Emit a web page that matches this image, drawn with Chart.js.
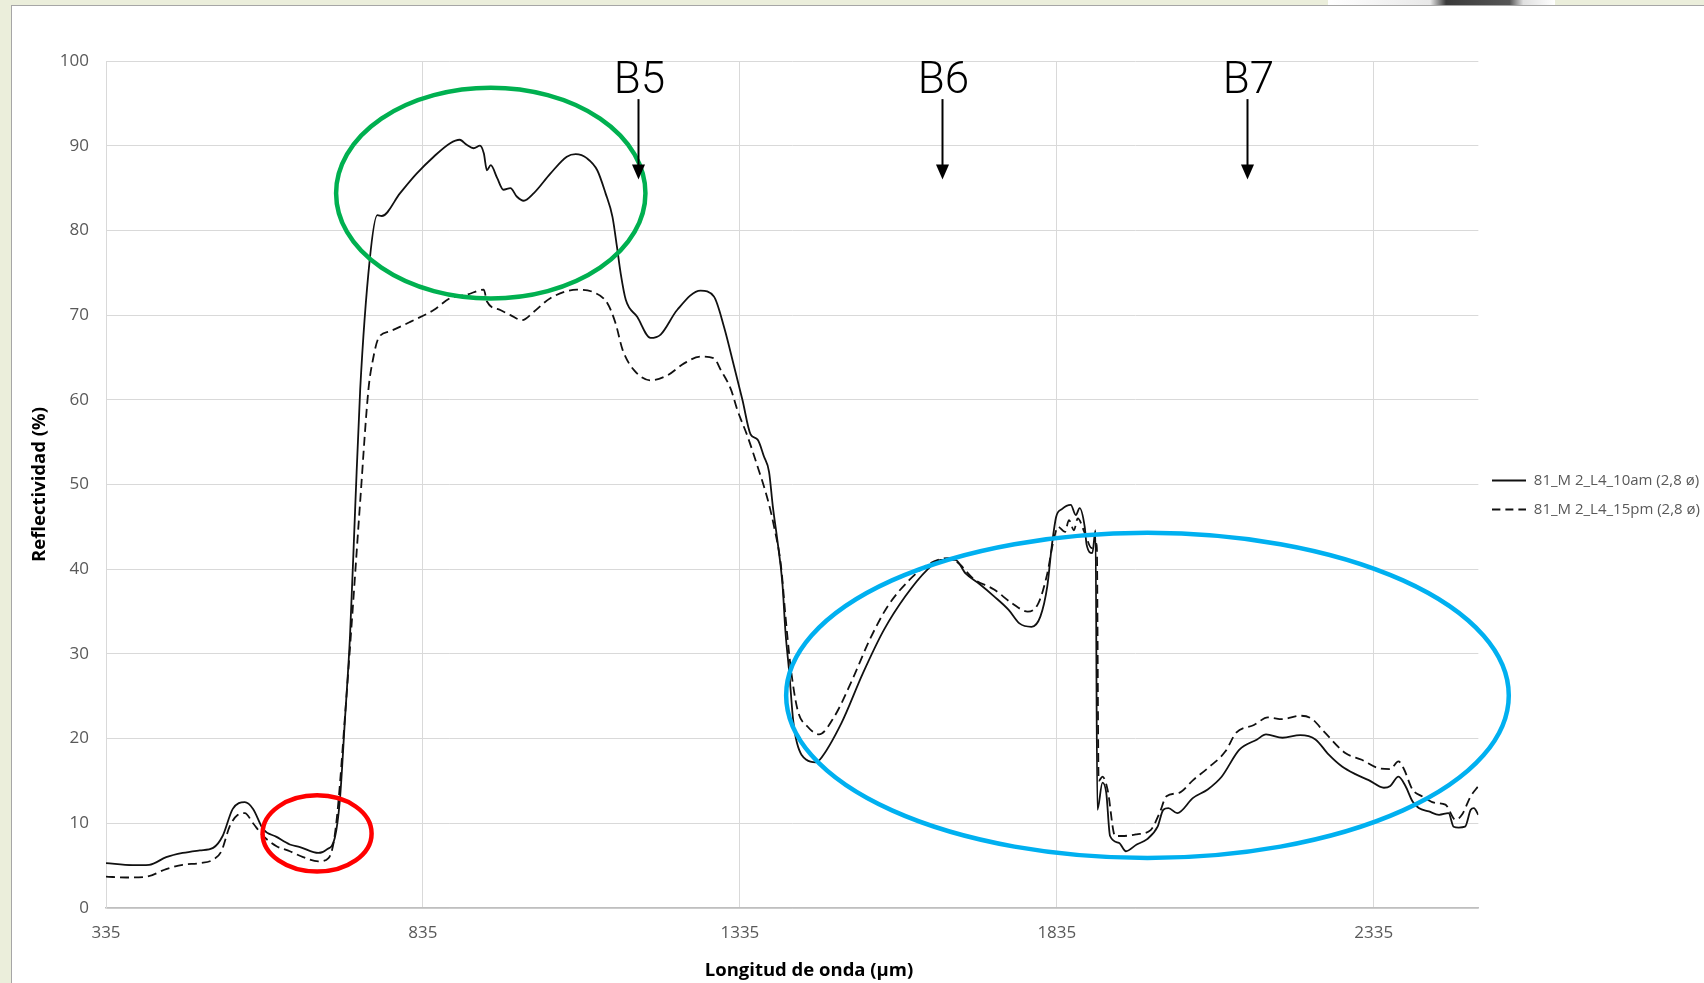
<!DOCTYPE html>
<html>
<head>
<meta charset="utf-8">
<script src="https://cdn.jsdelivr.net/npm/chart.js@4"></script>
<style>
  body { margin: 0; background: #ebeedb; overflow: hidden; }
  #panel { position: absolute; left: 11px; top: 5px; width: 1693px; height: 978px; background: #fff;
           border-top: 1px solid #a6a6a6; border-left: 1px solid #a6a6a6; }
  #strip { position: absolute; left: 1328px; top: 0; width: 227px; height: 5px;
           background: linear-gradient(to right, #fff 0%, #e8e8e8 45%, #3a3a3a 52%, #555 80%, #e0e0e0 86%, #fff 100%); }
  #myChart { position: absolute; left: 0; top: 0; }
</style>
</head>
<body>
<div id="panel"></div>
<div id="strip"></div>
<canvas id="myChart" width="1704" height="983"></canvas>
<script>
// wavelength / reflectance
const wl10am = [335, 377, 403, 430, 456, 483, 504, 519, 535, 554, 567, 583, 604, 625, 641, 670, 683, 696, 704, 712,
  720, 728, 736, 751, 763, 770, 799, 825, 852, 878, 893, 904, 915, 925, 931, 936, 942, 952, 962, 973,
  983, 994, 1010, 1036, 1062, 1076, 1094, 1110, 1123, 1134, 1141, 1147, 1155, 1173, 1194, 1210, 1236, 1273, 1294, 1310,
  1326, 1339, 1352, 1363, 1373, 1381, 1387, 1394, 1402, 1407, 1413, 1419, 1425, 1440, 1455, 1461, 1495, 1529, 1562, 1596,
  1630, 1652, 1675, 1691, 1714, 1736, 1759, 1776, 1795, 1809, 1820, 1827, 1834, 1843, 1857, 1865, 1871, 1879, 1882, 1891,
  1896, 1899, 1907, 1913, 1919, 1933, 1944, 1961, 1977, 1994, 2003, 2011, 2025, 2050, 2073, 2095, 2123, 2151, 2165, 2191,
  2219, 2243, 2264, 2285, 2306, 2327, 2351, 2361, 2374, 2385, 2396, 2406, 2422, 2438, 2453, 2461, 2469, 2479, 2488, 2493, 2500];
const r10am = [5.3, 5.06, 5.1, 6.0, 6.5, 6.8, 7.1, 8.5, 11.7, 12.5, 11.7, 9.3, 8.4, 7.5, 7.2, 6.5, 6.9, 8.3, 12.8, 22.3,
  32.2, 47, 61.2, 76.5, 81.8, 81.7, 84.4, 86.7, 88.7, 90.3, 90.7, 90.1, 89.7, 90.0, 89.1, 87.1, 87.7, 86.2, 84.8, 85.0,
  84.0, 83.5, 84.4, 86.7, 88.7, 89.0, 88.5, 87.1, 84.4, 81.6, 78.1, 74.9, 71.8, 69.8, 67.3, 67.7, 70.6, 72.9, 72.2, 68.6,
  63.9, 60.0, 55.9, 55.3, 53.3, 51.5, 47.4, 43.5, 38.4, 32.5, 27.7, 22.2, 19.5, 17.5, 17.2, 17.5, 21.8, 27.7, 32.8, 36.8,
  39.9, 41.1, 41.1, 39.5, 38.2, 36.8, 35.2, 33.6, 33.2, 34.4, 38.0, 42.7, 46.2, 47.1, 47.6, 46.4, 47.2, 45.0, 42.9, 41.9,
  44.6, 11.6, 14.8, 13.6, 8.5, 7.7, 6.7, 7.5, 8.1, 9.6, 11.6, 11.8, 11.2, 13.0, 14.0, 15.5, 18.7, 19.9, 20.5, 20.1,
  20.4, 19.9, 18.1, 16.7, 15.8, 15.1, 14.2, 14.4, 15.5, 14.4, 12.6, 11.8, 11.4, 11.0, 11.2, 9.6, 9.5, 9.6, 11.6, 11.8, 11.0];

const wl15pm = [335, 367, 399, 430, 456, 483, 504, 517, 530, 543, 554, 567, 583, 604, 625, 646, 670, 686, 694, 701,
  712, 723, 736, 749, 756, 765, 783, 815, 852, 878, 904, 931, 936, 957, 973, 991, 1010, 1036, 1078, 1104,
  1126, 1139, 1150, 1168, 1194, 1221, 1247, 1273, 1294, 1305, 1321, 1331, 1347, 1363, 1379, 1389, 1400, 1407, 1415, 1426,
  1442, 1460, 1484, 1512, 1540, 1568, 1602, 1635, 1663, 1680, 1703, 1736, 1764, 1789, 1806, 1820, 1829, 1837, 1848, 1854,
  1862, 1868, 1879, 1890, 1898, 1901, 1907, 1915, 1927, 1938, 1961, 1983, 1997, 2008, 2028, 2050, 2073, 2101, 2118, 2146,
  2168, 2191, 2219, 2236, 2258, 2290, 2316, 2343, 2361, 2374, 2382, 2396, 2411, 2432, 2448, 2464, 2474, 2488, 2500];
const r15pm = [3.7, 3.6, 3.7, 4.6, 5.1, 5.3, 5.7, 6.7, 9.6, 11.0, 11.2, 10.0, 8.5, 7.3, 6.7, 6.0, 5.5, 5.9, 7.7, 12.0,
  22.6, 34.0, 48, 61.2, 64.7, 67.3, 68.1, 69.2, 70.6, 72.0, 72.4, 73.0, 71.6, 70.6, 70.0, 69.4, 70.4, 72.0, 73.0, 72.7,
  71.4, 69.0, 65.9, 63.5, 62.3, 62.9, 64.3, 65.1, 64.9, 63.5, 61.2, 58.8, 55.7, 52.1, 48.2, 45.0, 40.3, 34.4, 28.5, 23.4,
  21.4, 20.5, 22.6, 26.9, 31.7, 35.6, 38.7, 40.7, 41.3, 40.7, 38.9, 37.6, 36.0, 35.0, 36.0, 39.5, 43.1, 45.0, 44.4, 45.8,
  44.6, 46.0, 44.3, 42.5, 43.0, 15.0, 15.5, 14.0, 8.5, 8.5, 8.7, 9.2, 11.2, 13.2, 13.6, 15.1, 16.5, 18.5, 20.7, 21.6,
  22.5, 22.3, 22.7, 22.4, 20.7, 18.3, 17.5, 16.5, 16.4, 17.3, 16.5, 14.0, 13.2, 12.4, 12.2, 10.4, 11.0, 13.2, 14.4];

const xTicks = [335, 835, 1335, 1835, 2335];

// band markers (wavelength) and highlighted zones (in data units)
const bandLabels = ['B5', 'B6', 'B7'];
const bandWl = [1175, 1654, 2135];
const highlights = [
  { x: 942, y: 84.4, rx: 244, ry: 12.45, color: '#00b050' },
  { x: 668, y: 8.8, rx: 86, ry: 4.5, color: '#ff0000' },
  { x: 1978, y: 25.1, rx: 570, ry: 19.2, color: '#00b0f0' },
];

const toPoints = (xs, ys) => xs.map((x, i) => ({ x: x, y: ys[i] }));

// little line samples used as legend symbols
function lineSample(dash) {
  const c = document.createElement('canvas');
  c.width = 34;
  c.height = 4;
  const g = c.getContext('2d');
  g.strokeStyle = '#111111';
  g.lineWidth = 1.8;
  g.setLineDash(dash);
  g.beginPath();
  g.moveTo(0, 2);
  g.lineTo(34, 2);
  g.stroke();
  return c;
}

const annotations = {
  id: 'annotations',
  afterDatasetsDraw(chart) {
    const { ctx, scales: { x, y } } = chart;
    ctx.save();
    // ellipses
    highlights.forEach((h) => {
      const cx = x.getPixelForValue(h.x);
      const cy = y.getPixelForValue(h.y);
      const rx = x.getPixelForValue(h.x + h.rx) - cx;
      const ry = cy - y.getPixelForValue(h.y + h.ry);
      ctx.beginPath();
      ctx.ellipse(cx, cy, rx, ry, 0, 0, Math.PI * 2);
      ctx.lineWidth = 4.5;
      ctx.strokeStyle = h.color;
      ctx.stroke();
    });
    // band arrows
    const top = y.getPixelForValue(95.5);
    const tip = y.getPixelForValue(86);
    ctx.fillStyle = '#000';
    ctx.strokeStyle = '#000';
    ctx.font = '300 44px Roboto';
    ctx.textAlign = 'center';
    ctx.textBaseline = 'alphabetic';
    bandWl.forEach((w, i) => {
      const px = Math.round(x.getPixelForValue(w)) + 0.5;
      ctx.beginPath();
      ctx.moveTo(px, top);
      ctx.lineTo(px, tip - 12);
      ctx.lineWidth = 2;
      ctx.stroke();
      ctx.beginPath();
      ctx.moveTo(px - 6.5, tip - 15);
      ctx.lineTo(px + 6.5, tip - 15);
      ctx.lineTo(px, tip);
      ctx.closePath();
      ctx.fill();
      ctx.fillText(bandLabels[i], px + 1, top - 6);
    });
    ctx.restore();
  },
};

Chart.defaults.font.family = "'Open Sans', sans-serif";

const ctx = document.getElementById('myChart');

new Chart(ctx, {
  type: 'line',
  data: {
    datasets: [
      {
        label: '81_M 2_L4_10am (2,8 ø)',
        data: toPoints(wl10am, r10am),
        borderWidth: 1.8,
        borderColor: '#111111',
        backgroundColor: '#111111',
        pointRadius: 0,
        pointStyle: lineSample([]),
        cubicInterpolationMode: 'monotone',
      },
      {
        label: '81_M 2_L4_15pm (2,8 ø)',
        data: toPoints(wl15pm, r15pm),
        borderWidth: 1.8,
        borderColor: '#111111',
        backgroundColor: '#111111',
        borderDash: [9, 5],
        pointRadius: 0,
        pointStyle: lineSample([8, 5]),
        cubicInterpolationMode: 'monotone',
      },
    ],
  },
  options: {
    responsive: false,
    animation: false,
    // the legend runs right up to the panel edge
    layout: { padding: { top: 61, left: 20, right: -6, bottom: 0 } },
    plugins: {
      legend: {
        position: 'right',
        fullSize: false,
        title: { display: true, text: '', font: { size: 10 }, padding: 4.5 },
        labels: {
          usePointStyle: true,
          pointStyleWidth: 34,
          padding: 14,
          color: '#595959',
          font: { size: 15 },
        },
      },
      tooltip: { enabled: false },
    },
    scales: {
      x: {
        type: 'linear',
        min: 335,
        max: 2500,
        afterBuildTicks: (scale) => {
          scale.ticks = xTicks.map((v) => ({ value: v }));
        },
        afterFit: (scale) => {
          scale.height = 75;
        },
        ticks: {
          callback: (v) => String(v),
          color: '#595959',
          font: { size: 17 },
          padding: 15,
          maxRotation: 0,
        },
        grid: { color: '#d9d9d9', drawTicks: false },
        border: { color: '#bfbfbf', width: 1.5 },
        title: {
          display: true,
          // leading blanks push the title a bit right of the axis centre, as in the original
          text: '\u00a0'.repeat(7) + 'Longitud de onda (µm)',
          color: '#000',
          font: { size: 18.5, weight: 'bold' },
          padding: { top: 0, bottom: 1 },
        },
      },
      y: {
        min: 0,
        max: 100,
        afterFit: (scale) => {
          scale.width = 86;
        },
        ticks: {
          stepSize: 10,
          color: '#595959',
          font: { size: 17 },
          padding: 17,
        },
        grid: { color: '#d9d9d9', drawTicks: false },
        border: { color: '#d9d9d9' },
        title: {
          display: true,
          text: 'Reflectividad (%)',
          color: '#000',
          font: { size: 18.5, weight: 'bold' },
          padding: { top: 9, bottom: 0 },
        },
      },
    },
  },
  plugins: [annotations],
});
</script>
</body>
</html>
